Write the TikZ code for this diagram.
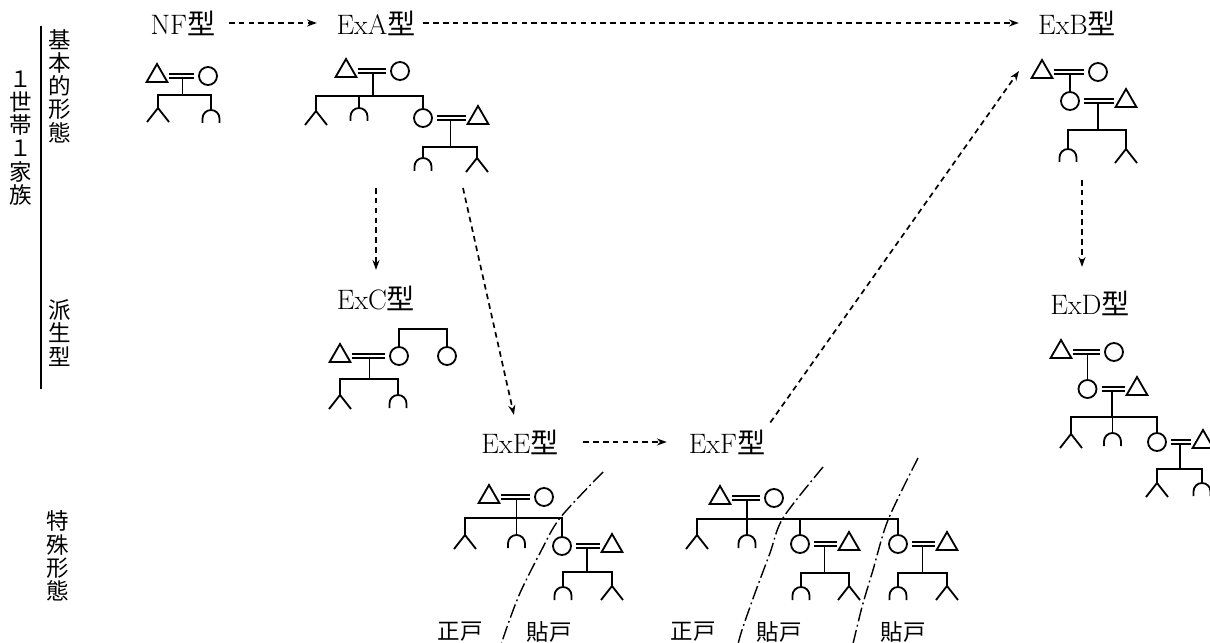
\documentclass[tikz,border=0pt]{standalone}
\usepackage{fontspec}
\newfontfamily\jp{Noto Sans CJK JP}
\usetikzlibrary{calc, shapes.geometric, arrows.meta}

\tikzset{
  kin/.style={line width=1.3pt},
  man/.style={draw, line width=1.3pt, regular polygon, regular polygon sides=3,
    minimum size=0.6cm, inner sep=0pt},
  woman/.style={draw, line width=1.3pt, circle, minimum size=0.45cm, inner sep=0pt},
  wed/.style={double, double distance=2pt, line width=1.2pt,
    shorten <=3pt, shorten >=3pt},
  flow/.style={line width=1.2pt, dash pattern=on 4pt off 3pt,
    -{Stealth[length=7pt, width=5pt]}},
  cut/.style={line width=1pt, dash pattern=on 10pt off 2.5pt on 1.3pt off 2.5pt},
  ty/.style={font=\fontsize{20}{22}\selectfont, inner sep=0pt},
  col/.style={font=\jp\fontsize{16}{16.5}\selectfont, align=center, inner sep=0pt},
  pics/son/.style={code={\draw[kin] (-11,14) -- (0,0) -- (11,14);}},
  pics/dau/.style={code={\draw[kin] (-8.5,13) -- (-8.5,8.5) arc (180:360:8.5) -- (8.5,13);}}
}

\begin{document}
\begin{tikzpicture}[x=0.025cm, y=-0.025cm]
                \useasboundingbox (0,0) rectangle (1210,643);
                \clip (0,0) rectangle (1210,643);
                % left column
                \node[col] (all) at (21,138) {１\\世\\帯\\１\\家\\族};
                \node[col] (basic) at (60,86) {基\\本\\的\\形\\態};
                \node[col] (deriv) at (60,333) {派\\生\\型};
                \node[col] (spec) at (58,556) {特\\殊\\形\\態};
                \coordinate (Rt) at (41,26);
                \coordinate (Rb) at (41,389);
                \draw[line width=0.9pt] (Rt) -- (Rb);
                % type labels
                \node[ty] (NF) at (183,23) {NF{\jp 型}};
                \node[ty] (ExA) at (376,23) {ExA{\jp 型}};
                \node[ty] (ExB) at (1077,23) {ExB{\jp 型}};
                \node[ty] (ExC) at (376,298) {ExC{\jp 型}};
                \node[ty] (ExD) at (1090,303) {ExD{\jp 型}};
                \node[ty] (ExE) at (520,442) {ExE{\jp 型}};
                \node[ty] (ExF) at (727,442) {ExF{\jp 型}};
                \coordinate (AtoC) at (376,188);
                \coordinate (AtoE) at (463,188);
                \coordinate (BtoD) at (1082,180);
                \coordinate (Bin) at (1019,71);
                \draw[flow, shorten <=9.5pt, shorten >=13.8pt] (NF) -- (ExA);
                \draw[flow, shorten <=5.3pt, shorten >=13.5pt] (ExA) -- (ExB);
                \draw[flow, shorten >=11pt] (AtoC) -- (ExC);
                \draw[flow, shorten >=10.5pt] (AtoE) -- (ExE);
                \draw[flow, shorten >=16.7pt] (BtoD) -- (BtoD |- ExD.north);
                \draw[flow, shorten <=17.4pt, shorten >=15.5pt] (ExE) -- (ExF);
                \draw[flow, shorten <=6pt] (ExF.north east) -- (Bin);
                % NF
                \node[man] (Nm) at (157,76) {};
                \node[woman] (Nw) at (208,76) {};
                \coordinate (Nb) at ($(Nm)!.5!(Nw)+(0,19)$);
                \coordinate (Ns) at (158,108);
                \coordinate (Nd) at (211,110);
                \draw[kin] ($(Nm)!.5!(Nw)$) -- (Nb);
                \draw[kin] (Ns) |- (Nb) -| (Nd);
                \draw[wed] (Nm) -- (Nw);
                \pic at (Ns) {son};
                \pic at (Nd) {dau};
                % ExA
                \node[man] (Am) at (346,71) {};
                \node[woman] (Aw) at (400,71) {};
                \coordinate (Ab) at ($(Am)!.5!(Aw)+(0,25)$);
                \coordinate (As) at (316,111);
                \coordinate (Ad) at (359,108);
                \node[woman] (Aw2) at (423,118) {};
                \node[man] (Am2) at (478,118) {};
                \coordinate (Ab2) at ($(Aw2)!.5!(Am2)+(0,29)$);
                \coordinate (Ad2) at (423,158);
                \coordinate (As2) at (477,158);
                \draw[kin] ($(Am)!.5!(Aw)$) -- (Ab);
                \draw[kin] (As) |- (Ab) -| (Aw2);
                \draw[kin] (Ad) -- (Ad |- Ab);
                \draw[kin] ($(Aw2)!.5!(Am2)$) -- (Ab2);
                \draw[kin] (Ad2) |- (Ab2) -| (As2);
                \draw[wed] (Am) -- (Aw);
                \draw[wed] (Aw2) -- (Am2);
                \pic at (As) {son};
                \pic at (Ad) {dau};
                \pic at (Ad2) {dau};
                \pic at (As2) {son};
                % ExB
                \node[man] (Bm) at (1042,72) {};
                \node[woman] (Bw) at (1098,72) {};
                \node[woman] (Bw2) at (1070,101) {};
                \node[man] (Bm2) at (1126,101) {};
                \coordinate (Bb) at ($(Bw2)!.5!(Bm2)+(0,29)$);
                \coordinate (Bd) at (1068,149);
                \coordinate (Bs) at (1126,149);
                \draw[kin] ($(Bm)!.5!(Bw)$) -- (Bw2);
                \draw[kin] ($(Bw2)!.5!(Bm2)$) -- (Bb);
                \draw[kin] (Bd) |- (Bb) -| (Bs);
                \draw[wed] (Bm) -- (Bw);
                \draw[wed] (Bw2) -- (Bm2);
                \pic at (Bd) {dau};
                \pic at (Bs) {son};
                % ExC
                \node[man] (Cm) at (340,356) {};
                \node[woman] (Cw) at (399,356) {};
                \node[woman] (Cw2) at (447,356) {};
                \coordinate (Ct) at (423,329);
                \coordinate (Cb) at ($(Cm)!.5!(Cw)+(0,23)$);
                \coordinate (Cs) at (340,395);
                \coordinate (Cd) at (398,395);
                \draw[kin] (Cw) |- (Ct) -| (Cw2);
                \draw[kin] ($(Cm)!.5!(Cw)$) -- (Cb);
                \draw[kin] (Cs) |- (Cb) -| (Cd);
                \draw[wed] (Cm) -- (Cw);
                \pic at (Cs) {son};
                \pic at (Cd) {dau};
                % ExD
                \node[man] (Dm) at (1061,352) {};
                \node[woman] (Dw) at (1114,352) {};
                \node[woman] (Dw2) at (1087.5,389) {};
                \node[man] (Dm2) at (1137,389) {};
                \coordinate (Db) at ($(Dw2)!.5!(Dm2)+(0,28)$);
                \coordinate (Ds) at (1071,434);
                \coordinate (Dd) at (1112.5,433);
                \node[woman] (Dw3) at (1157,442) {};
                \node[man] (Dm3) at (1203,442) {};
                \coordinate (Db2) at ($(Dw3)!.5!(Dm3)+(0,27)$);
                \coordinate (Ds2) at (1157,483);
                \coordinate (Dd2) at (1202,483);
                \draw[kin] ($(Dm)!.5!(Dw)$) -- (Dw2);
                \draw[kin] ($(Dw2)!.5!(Dm2)$) -- (Db);
                \draw[kin] (Ds) |- (Db) -| (Dw3);
                \draw[kin] (Dd) -- (Dd |- Db);
                \draw[kin] ($(Dw3)!.5!(Dm3)$) -- (Db2);
                \draw[kin] (Ds2) |- (Db2) -| (Dd2);
                \draw[wed] (Dm) -- (Dw);
                \draw[wed] (Dw2) -- (Dm2);
                \draw[wed] (Dw3) -- (Dm3);
                \pic at (Ds) {son};
                \pic at (Dd) {dau};
                \pic at (Ds2) {son};
                \pic at (Dd2) {dau};
                % ExE
                \node[man] (Em) at (489,497) {};
                \node[woman] (Ew) at (544,497) {};
                \coordinate (Eb) at ($(Em)!.5!(Ew)+(0,21)$);
                \coordinate (Es) at (465,535);
                \coordinate (Ed) at (516.5,535);
                \node[woman] (Ew2) at (562,546) {};
                \node[man] (Em2) at (612,546) {};
                \coordinate (Eb2) at ($(Ew2)!.5!(Em2)+(0,26)$);
                \coordinate (Ed2) at (563,587);
                \coordinate (Es2) at (612,586);
                \draw[kin] ($(Em)!.5!(Ew)$) -- (Eb);
                \draw[kin] (Es) |- (Eb) -| (Ew2);
                \draw[kin] (Ed) -- (Ed |- Eb);
                \draw[kin] ($(Ew2)!.5!(Em2)$) -- (Eb2);
                \draw[kin] (Ed2) |- (Eb2) -| (Es2);
                \draw[wed] (Em) -- (Ew);
                \draw[wed] (Ew2) -- (Em2);
                \pic at (Es) {son};
                \pic at (Ed) {dau};
                \pic at (Ed2) {dau};
                \pic at (Es2) {son};
                % ExF
                \node[man] (Fm) at (720,498) {};
                \node[woman] (Fw) at (774,498) {};
                \coordinate (Fb) at ($(Fm)!.5!(Fw)+(0,21)$);
                \coordinate (Fs) at (697,535);
                \coordinate (Fd) at (747,535);
                \node[woman] (Fw2) at (800,544) {};
                \node[man] (Fm2) at (849,544) {};
                \node[woman] (Fw3) at (898,544) {};
                \node[man] (Fm3) at (947,544) {};
                \coordinate (Fb2) at ($(Fw2)!.5!(Fm2)+(0,29)$);
                \coordinate (Fb3) at ($(Fw3)!.5!(Fm3)+(0,29)$);
                \coordinate (Fd2) at (801,587);
                \coordinate (Fs2) at (849,586);
                \coordinate (Fd3) at (898,587);
                \coordinate (Fs3) at (947,586);
                \draw[kin] ($(Fm)!.5!(Fw)$) -- (Fb);
                \draw[kin] (Fs) |- (Fb) -| (Fw3);
                \draw[kin] (Fd) -- (Fd |- Fb);
                \draw[kin] (Fw2) -- (Fw2 |- Fb);
                \draw[kin] ($(Fw2)!.5!(Fm2)$) -- (Fb2);
                \draw[kin] (Fd2) |- (Fb2) -| (Fs2);
                \draw[kin] ($(Fw3)!.5!(Fm3)$) -- (Fb3);
                \draw[kin] (Fd3) |- (Fb3) -| (Fs3);
                \draw[wed] (Fm) -- (Fw);
                \draw[wed] (Fw2) -- (Fm2);
                \draw[wed] (Fw3) -- (Fm3);
                \pic at (Fs) {son};
                \pic at (Fd) {dau};
                \pic at (Fd2) {dau};
                \pic at (Fs2) {son};
                \pic at (Fd3) {dau};
                \pic at (Fs3) {son};
                % household borders
                \draw[cut] plot[smooth] coordinates {(603,472) (560,518) (540,553) (520,593) (507,627) (500,648)};
                \draw[cut] plot[smooth] coordinates {(823,467) (783,518) (770,553) (755,593) (742,630) (737,648)};
                \draw[cut] plot[smooth] coordinates {(918,458) (888,520) (873,570) (862,607) (852,648)};
                \node[col] (Emain) at (460,632) {正戸};
                \node[col] (Eside) at (549,632) {貼戸};
                \node[col] (Fmain) at (693,632) {正戸};
                \node[col] (Fside) at (779,632) {貼戸};
                \node[col] (Fside2) at (903,632) {貼戸};
            \end{tikzpicture}
\end{document}
